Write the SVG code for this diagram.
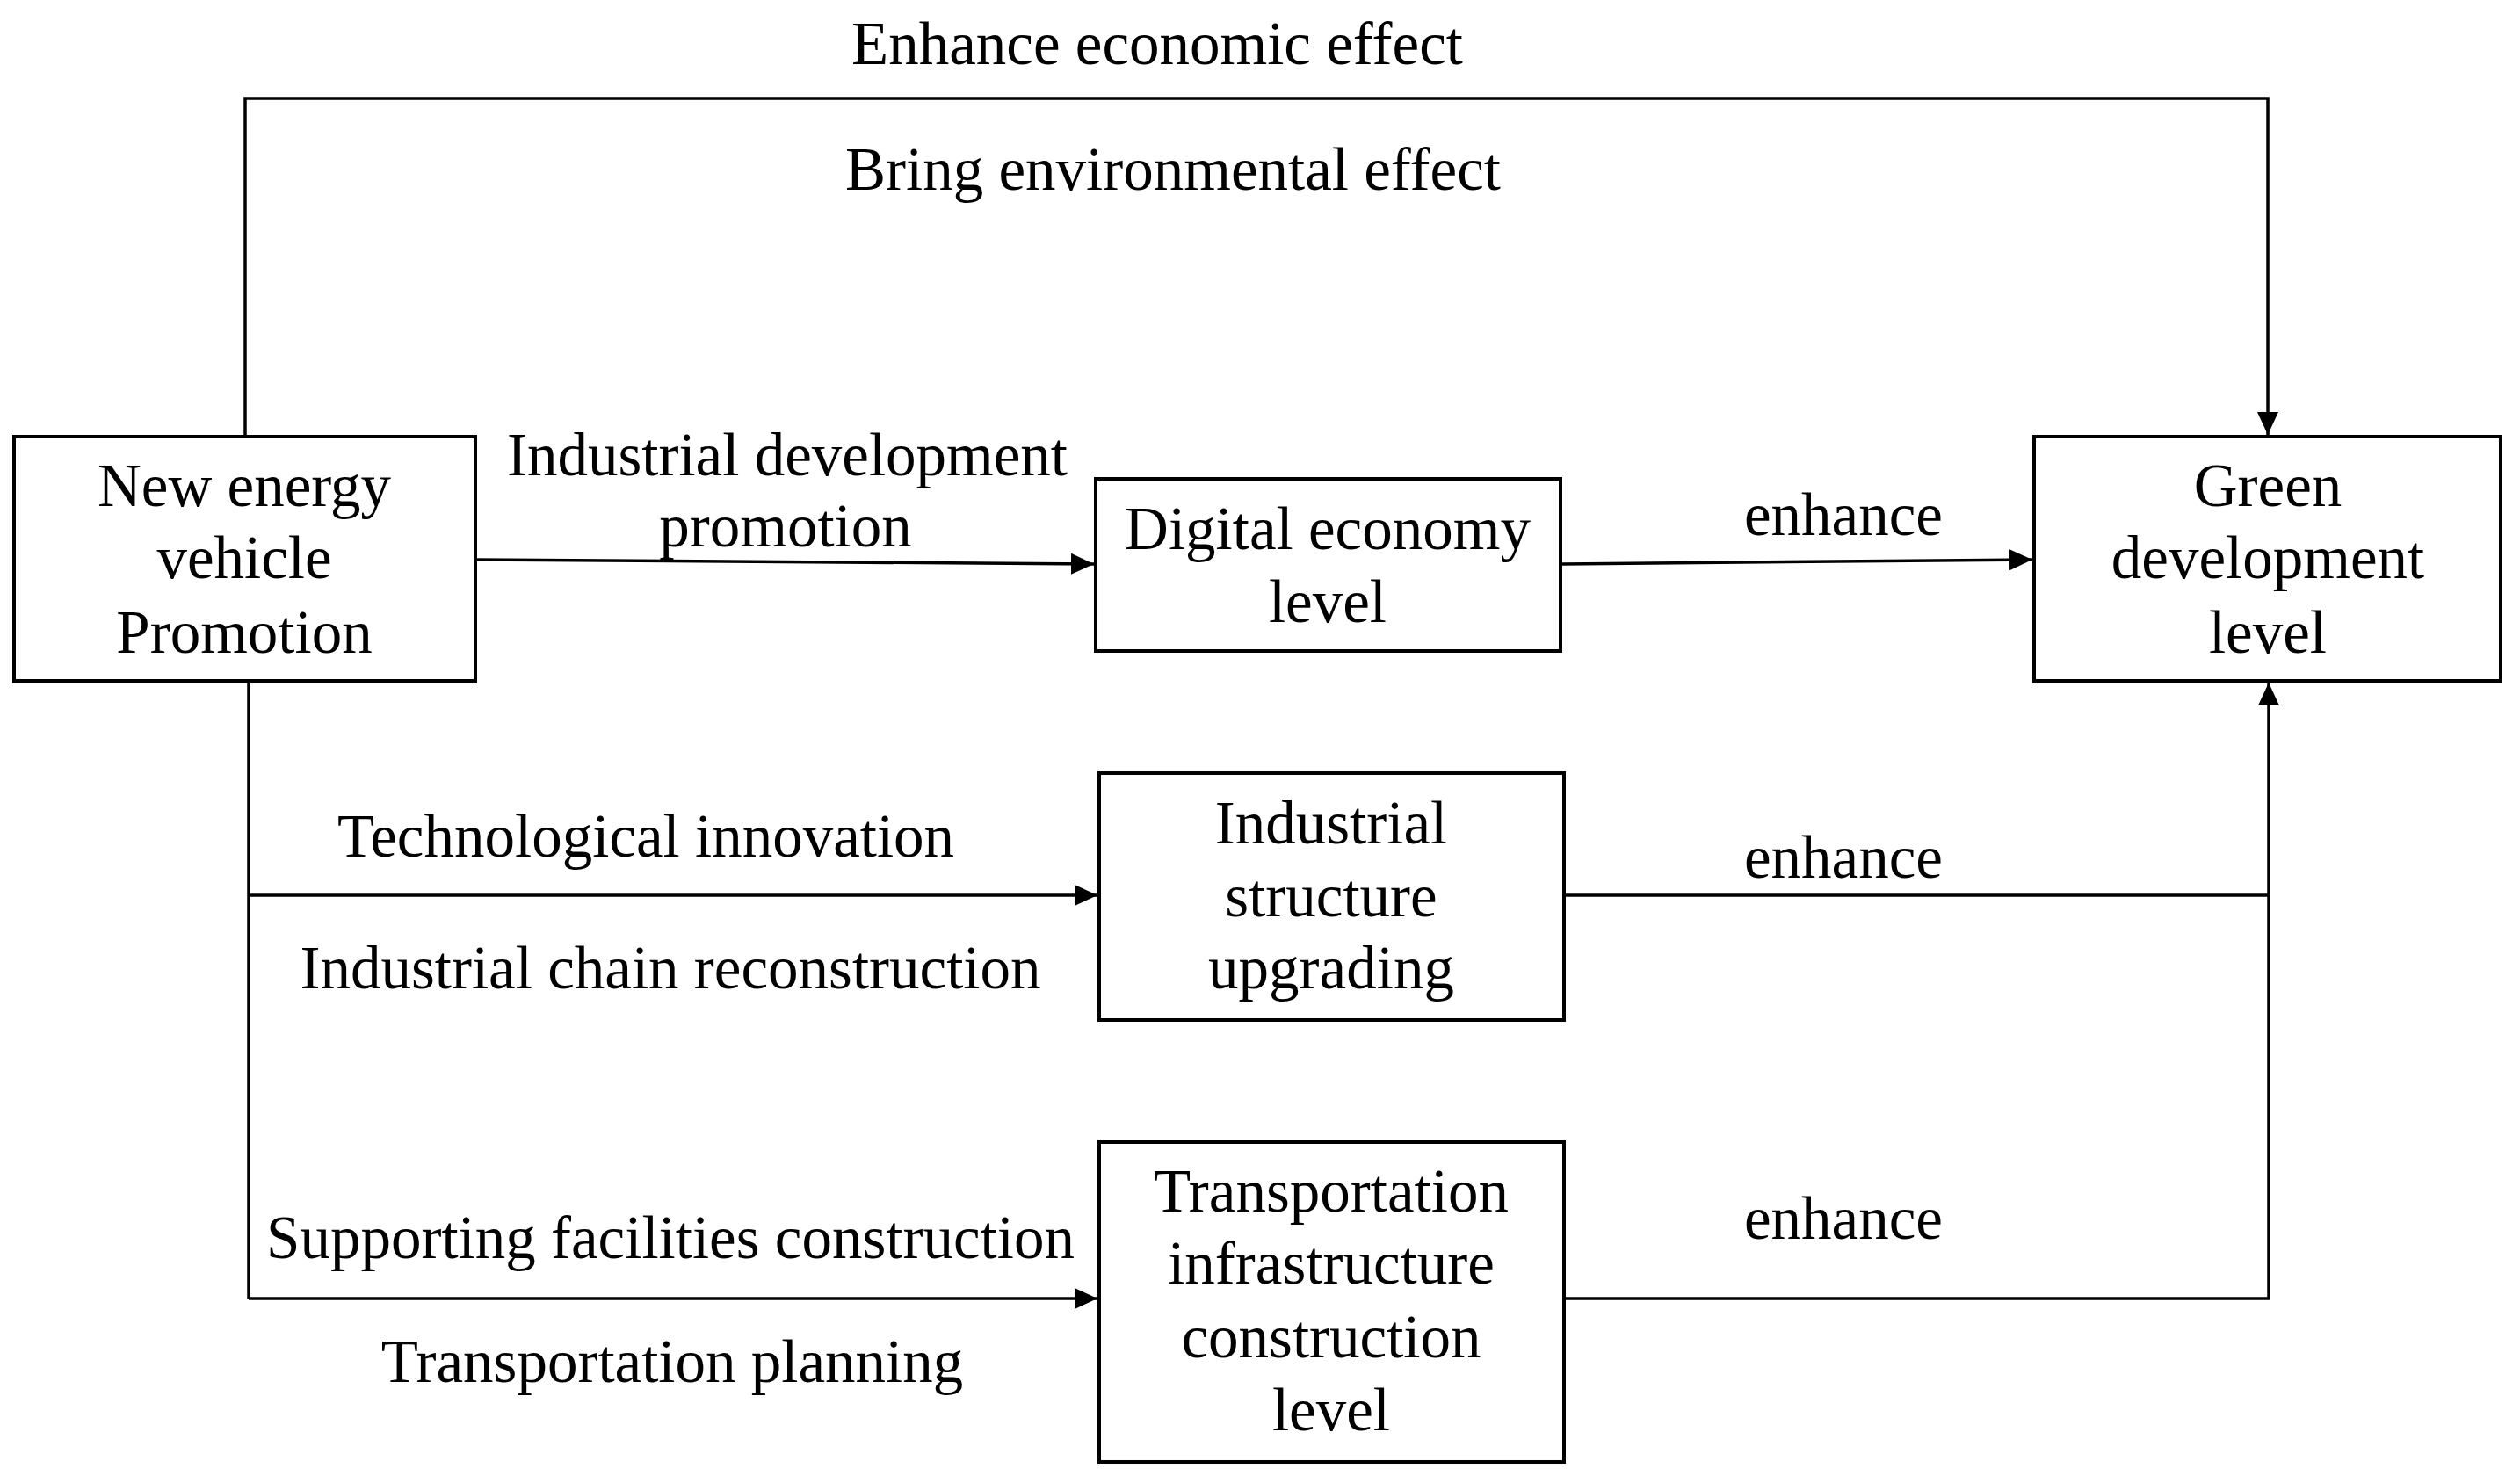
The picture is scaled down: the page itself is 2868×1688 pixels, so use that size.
<svg xmlns="http://www.w3.org/2000/svg" width="2868" height="1688" viewBox="0 0 2868 1688">
<style>
.box{fill:#fff;stroke:#000;stroke-width:4}
.ln{fill:none;stroke:#000;stroke-width:3.5}
text{font-family:"Liberation Serif","Times New Roman",serif;font-size:69px;fill:#000;text-anchor:middle}
</style>
<defs>
<marker id="ah" markerUnits="userSpaceOnUse" markerWidth="28" markerHeight="24" refX="26" refY="12" orient="auto">
<path d="M0,0 L26,12 L0,24 Z" fill="#000"/>
</marker>
</defs>
<rect width="2868" height="1688" fill="#fff"/>
<g id="connectors">
<path class="ln" d="M279,497 V112 H2581 V495" marker-end="url(#ah)"/>
<path class="ln" d="M541,637 L1245,642" marker-end="url(#ah)"/>
<path class="ln" d="M1776,642 L2313,637" marker-end="url(#ah)"/>
<path class="ln" d="M283,775 V1478"/>
<path class="ln" d="M283,1019 H1249" marker-end="url(#ah)"/>
<path class="ln" d="M283,1478 H1249" marker-end="url(#ah)"/>
<path class="ln" d="M1780,1019 H2582 V777" marker-end="url(#ah)"/>
<path class="ln" d="M1780,1478 H2582 V1019"/>
</g>
<g id="labels">
<text x="1317" y="73">Enhance economic effect</text>
<text x="1335" y="216">Bring environmental effect</text>
<text x="896" y="541">Industrial development</text>
<text x="894" y="622">promotion</text>
<text x="2098" y="609">enhance</text>
<text x="735" y="975">Technological innovation</text>
<text x="763" y="1125">Industrial chain reconstruction</text>
<text x="2098" y="999">enhance</text>
<text x="763" y="1432">Supporting facilities construction</text>
<text x="765" y="1573">Transportation planning</text>
<text x="2098" y="1410">enhance</text>
</g>
<g id="nev">
<rect class="box" x="16" y="497" width="525" height="278"/>
<text x="278" y="576">New energy</text>
<text x="278" y="658">vehicle</text>
<text x="278" y="743">Promotion</text>
</g>
<g id="digital">
<rect class="box" x="1247" y="545" width="529" height="196"/>
<text x="1511" y="625">Digital economy</text>
<text x="1511" y="708">level</text>
</g>
<g id="green">
<rect class="box" x="2315" y="497" width="531" height="278"/>
<text x="2581" y="576">Green</text>
<text x="2581" y="658">development</text>
<text x="2581" y="743">level</text>
</g>
<g id="industrial">
<rect class="box" x="1251" y="880" width="529" height="281"/>
<text x="1515" y="960">Industrial</text>
<text x="1515" y="1043">structure</text>
<text x="1515" y="1125">upgrading</text>
</g>
<g id="transport">
<rect class="box" x="1251" y="1300" width="529" height="364"/>
<text x="1515" y="1379">Transportation</text>
<text x="1515" y="1461">infrastructure</text>
<text x="1515" y="1545">construction</text>
<text x="1515" y="1628">level</text>
</g>
</svg>
